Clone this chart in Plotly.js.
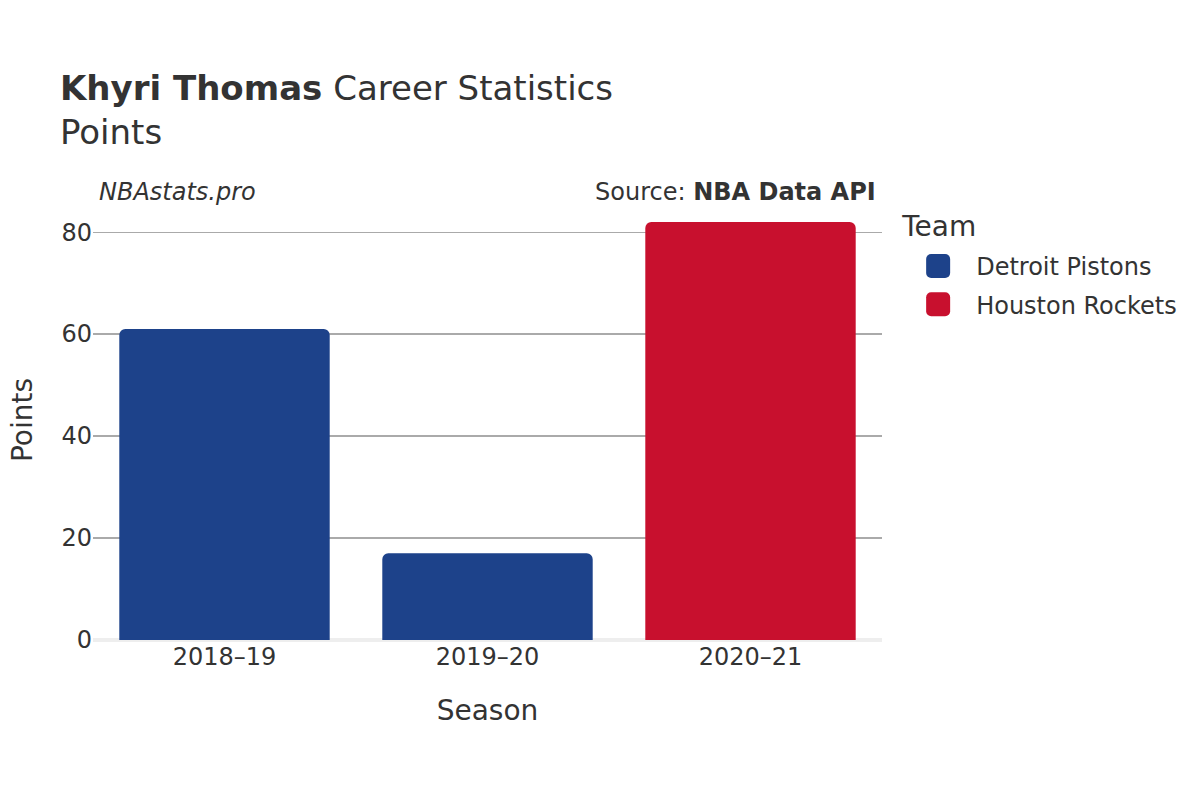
<!DOCTYPE html>
<html>
<head>
<meta charset="utf-8">
<script src="https://cdn.plot.ly/plotly-3.0.1.min.js"></script>
<style>html,body{margin:0;padding:0;background:#fff;}#chart{width:1200px;height:800px;}</style>
</head>
<body>
<div id="chart"></div>
<script>
const seasons = ["2018–19", "2019–20", "2020–21"];
const teams = ["Detroit Pistons", "Detroit Pistons", "Houston Rockets"];
const points = [61, 17, 82];
const teamColors = {"Detroit Pistons": "#1d428a", "Houston Rockets": "#c8102e"};
const teamOrder = ["Detroit Pistons", "Houston Rockets"];

const traces = teamOrder.map(t => {
  const xs = [], ys = [];
  seasons.forEach((s, i) => { if (teams[i] === t) { xs.push(s); ys.push(points[i]); } });
  return {
    type: "bar", name: t, x: xs, y: ys, legendgroup: t,
    marker: {color: teamColors[t], line: {width: 0}},
    hoverinfo: "x+y+name"
  };
});

const font = "DejaVu Sans, sans-serif";
const layout = {
  width: 1200, height: 800,
  paper_bgcolor: "#fff", plot_bgcolor: "#fff",
  font: {family: font, color: "#333", size: 24},
  margin: {l: 93, r: 318, t: 200, b: 160},
  barmode: "group", bargap: 0.2, barcornerradius: 6,
  title: {
    text: "<b>Khyri Thomas</b> Career Statistics<br>Points",
    x: 0.05, xanchor: "left", y: 0.875, yanchor: "top",
    font: {family: font, size: 34, color: "#333"}
  },
  xaxis: {
    categoryorder: "array", categoryarray: seasons,
    title: {text: "Season", font: {size: 28}, standoff: 30},
    tickfont: {size: 24}, showgrid: false, zeroline: false, showline: false, ticks: ""
  },
  yaxis: {
    title: {text: "Points", font: {size: 28}, standoff: 20},
    range: [0, 86.3], tickvals: [0, 20, 40, 60, 80],
    tickfont: {size: 24}, gridcolor: "#aaaaaa", gridwidth: 1.2,
    zeroline: true, zerolinecolor: "#eeeeee", zerolinewidth: 4,
    ticks: ""
  },
  legend: {
    title: {text: "Team", font: {size: 28}},
    x: 1.023, xanchor: "left", y: 0.983, yanchor: "top",
    font: {size: 24}, itemwidth: 66, traceorder: "grouped", tracegroupgap: 4
  },
  annotations: [
    {text: "<i>NBAstats.pro</i>", xref: "paper", yref: "paper", x: 0.005, y: 1.018, xanchor: "left", yanchor: "middle", showarrow: false, font: {size: 24, color: "#333"}},
    {text: "Source: <b>NBA Data API</b>", xref: "paper", yref: "paper", x: 0.995, y: 1.018, xanchor: "right", yanchor: "middle", showarrow: false, font: {size: 24, color: "#333"}}
  ],
  showlegend: true
};

Plotly.newPlot("chart", traces, layout, {displayModeBar: false, staticPlot: true}).then(gd => {
  // enlarge legend swatches into rounded squares like the reference
  document.querySelectorAll(".legend .legendpoints path").forEach(p => {
    p.setAttribute("d", "M-7,-12H7A5,5 0 0 1 12,-7V7A5,5 0 0 1 7,12H-7A5,5 0 0 1 -12,7V-7A5,5 0 0 1 -7,-12Z");
  });
  // lift the legend title a little above the items, as in the reference
  document.querySelectorAll(".legend .legendtitletext").forEach(t => {
    const y = parseFloat(t.getAttribute("y") || "0");
    t.setAttribute("y", String(y - 8));
    t.querySelectorAll("tspan[y]").forEach(s => s.setAttribute("y", String(parseFloat(s.getAttribute("y")) - 8)));
  });
});
</script>
</body>
</html>
